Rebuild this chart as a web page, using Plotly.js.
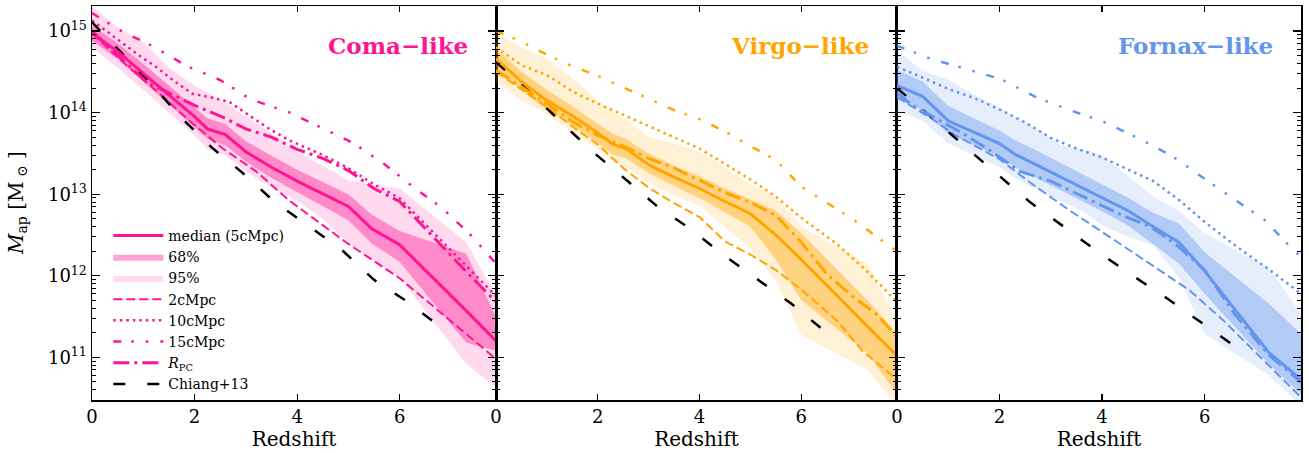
<!DOCTYPE html>
<html>
<head>
<meta charset="utf-8">
<script src="https://cdn.plot.ly/plotly-3.0.1.min.js"></script>
<style>html,body{margin:0;padding:0;background:#fff}#chart{width:1309px;height:453px}</style>
</head>
<body>
<div id="chart"></div>
<script>
// ---------- DATA (log10 of aperture mass in Msun vs redshift) ----------
// Coma-like
const comaBandZ      = [0, 0.5, 1.0, 1.5, 2.0, 2.25, 2.6, 3.0, 3.5, 4.0, 4.5, 5.0, 5.45, 6.0, 7.3, 7.88];
const comaMedian     = [14.97, 14.75, 14.48, 14.22, 13.95, 13.80, 13.73, 13.52, 13.33, 13.16, 13.01, 12.85, 12.58, 12.38, 11.57, 11.20];
const coma68Up       = [15.07, 14.85, 14.60, 14.33, 14.07, 13.93, 13.86, 13.65, 13.47, 13.30, 13.15, 13.00, 12.75, 12.55, 12.27, 11.49];
const coma68Low      = [14.88, 14.66, 14.38, 14.10, 13.83, 13.68, 13.60, 13.40, 13.20, 13.03, 12.86, 12.68, 12.40, 12.17, 11.18, 11.08];
const coma95Up       = [15.30, 15.05, 14.87, 14.55, 14.33, 14.25, 14.12, 13.95, 13.75, 13.52, 13.35, 13.17, 13.12, 13.07, 12.41, 11.75];
const coma95Low      = [14.80, 14.55, 14.28, 14.00, 13.72, 13.55, 13.48, 13.28, 13.08, 12.92, 12.70, 12.40, 12.20, 11.98, 10.92, 10.63];
const coma2Z         = [0, 0.6, 1.25, 1.9, 2.55, 3.2, 3.85, 5.0, 6.0, 7.3, 7.88];
const coma2          = [14.97, 14.62, 14.27, 13.90, 13.56, 13.28, 12.92, 12.39, 11.97, 11.29, 10.98];
const coma10Z        = [0, 0.6, 0.92, 1.25, 1.64, 1.96, 2.3, 2.68, 3.07, 3.46, 3.85, 4.5, 5.0, 5.5, 6.0, 7.3, 7.88];
const coma10         = [15.13, 14.85, 14.70, 14.56, 14.37, 14.23, 14.19, 14.13, 13.97, 13.80, 13.66, 13.48, 13.32, 13.12, 12.95, 12.12, 11.75];
const coma15Z        = [0, 0.57, 1.2, 1.85, 2.5, 3.1, 3.82, 4.47, 5.09, 5.72, 6.26, 6.85, 7.4, 7.88];
const coma15         = [15.22, 15.00, 14.81, 14.57, 14.40, 14.16, 14.01, 13.82, 13.63, 13.36, 13.09, 12.82, 12.49, 12.15];
const comaRpcZ       = [0, 0.5, 1.05, 1.57, 2.0, 2.6, 3.0, 3.5, 4.0, 4.5, 5.0, 5.5, 6.0, 7.3, 7.88];
const comaRpc        = [15.00, 14.70, 14.38, 14.22, 14.09, 13.93, 13.80, 13.70, 13.55, 13.44, 13.29, 13.07, 12.91, 12.05, 11.68];
const comaChiangZ    = [0, 1.2, 1.77, 2.34, 2.94, 3.57, 4.25, 4.9, 5.5, 6.18, 6.8];
const comaChiang     = [15.11, 14.32, 13.92, 13.57, 13.26, 12.90, 12.60, 12.30, 11.95, 11.67, 11.37];

// Virgo-like
const virgoBandZ     = [0, 0.5, 1.0, 1.5, 2.0, 2.3, 2.55, 3.0, 3.5, 4.0, 4.5, 5.0, 5.5, 6.0, 7.3, 7.88];
const virgoMedian    = [14.66, 14.38, 14.15, 13.96, 13.75, 13.61, 13.56, 13.36, 13.21, 13.07, 12.91, 12.76, 12.50, 12.20, 11.38, 11.02];
const virgo68Up      = [14.79, 14.50, 14.28, 14.08, 13.86, 13.74, 13.68, 13.50, 13.35, 13.22, 13.07, 12.93, 12.80, 12.52, 11.70, 11.29];
const virgo68Low     = [14.55, 14.27, 14.03, 13.84, 13.63, 13.48, 13.44, 13.26, 13.10, 12.95, 12.78, 12.60, 12.20, 11.70, 11.05, 10.55];
const virgo95Up      = [14.97, 14.80, 14.66, 14.42, 14.15, 14.00, 13.92, 13.70, 13.62, 13.52, 13.33, 13.12, 12.96, 12.60, 12.15, 11.45];
const virgo95Low     = [14.37, 14.15, 13.98, 13.76, 13.55, 13.40, 13.33, 13.14, 12.98, 12.86, 12.60, 12.33, 11.94, 11.27, 10.85, 10.40];
const virgo2Z        = [0, 0.5, 1.0, 1.5, 2.0, 2.5, 3.0, 3.5, 4.0, 4.5, 5.0, 5.5, 6.0, 6.7, 7.2, 7.88];
const virgo2         = [14.50, 14.28, 14.07, 13.83, 13.61, 13.32, 13.08, 12.89, 12.72, 12.42, 12.26, 12.07, 11.83, 11.45, 11.08, 10.73];
const virgo10Z       = [0, 0.5, 1.0, 1.5, 2.0, 2.5, 3.0, 3.5, 4.0, 4.5, 5.0, 5.5, 6.0, 6.7, 7.25, 7.88];
const virgo10        = [14.80, 14.58, 14.46, 14.26, 14.11, 13.97, 13.84, 13.70, 13.56, 13.37, 13.18, 12.97, 12.71, 12.39, 12.08, 11.68];
const virgo15Z       = [0, 0.5, 1.0, 1.5, 2.0, 2.5, 3.0, 3.5, 4.0, 4.5, 5.0, 5.5, 6.0, 6.5, 7.0, 7.5, 7.88];
const virgo15        = [15.00, 14.87, 14.71, 14.57, 14.45, 14.31, 14.17, 14.03, 13.92, 13.77, 13.59, 13.42, 13.09, 12.90, 12.70, 12.47, 12.30];
const virgoRpcZ      = [0, 0.5, 1.0, 1.5, 2.0, 2.5, 3.0, 3.5, 4.0, 4.5, 5.0, 5.5, 6.0, 6.5, 7.0, 7.5, 7.88];
const virgoRpc       = [14.52, 14.32, 14.11, 13.89, 13.72, 13.59, 13.44, 13.32, 13.17, 13.02, 12.90, 12.74, 12.41, 12.02, 11.75, 11.52, 11.25];
const virgoChiangZ   = [0, 0.65, 1.3, 1.9, 2.55, 3.15, 3.83, 4.48, 5.15, 5.8, 6.5];
const virgoChiang    = [14.62, 14.26, 13.87, 13.52, 13.18, 12.86, 12.57, 12.25, 11.95, 11.66, 11.30];

// Fornax-like
const fornaxBandZ    = [0, 0.5, 1.0, 1.5, 2.0, 2.3, 2.68, 3.2, 3.7, 4.0, 4.5, 5.0, 5.5, 6.0, 7.25, 7.88];
const fornaxMedian   = [14.33, 14.20, 13.90, 13.76, 13.62, 13.49, 13.37, 13.21, 13.05, 12.96, 12.80, 12.60, 12.41, 12.06, 11.06, 10.73];
const fornax68Up     = [14.52, 14.38, 14.08, 13.93, 13.78, 13.66, 13.55, 13.38, 13.22, 13.12, 12.96, 12.77, 12.64, 12.29, 11.66, 11.29];
const fornax68Low    = [14.17, 14.03, 13.74, 13.60, 13.46, 13.33, 13.21, 13.05, 12.89, 12.79, 12.62, 12.38, 12.15, 11.78, 10.92, 10.55];
const fornax95Up     = [14.76, 14.52, 14.40, 14.23, 14.05, 13.95, 13.82, 13.60, 13.54, 13.48, 13.22, 12.97, 12.80, 12.52, 12.10, 11.53];
const fornax95Low    = [14.02, 13.90, 13.62, 13.47, 13.33, 13.20, 13.07, 12.92, 12.76, 12.62, 12.48, 12.37, 11.98, 11.29, 10.78, 10.40];
const fornax2Z       = [0, 0.69, 1.15, 2.0, 2.58, 3.37, 4.02, 4.93, 5.71, 6.37, 7.02, 7.88];
const fornax2        = [14.19, 13.92, 13.72, 13.43, 13.15, 12.80, 12.53, 12.15, 11.82, 11.45, 11.04, 10.51];
const fornax10Z      = [0, 0.5, 1.0, 1.5, 2.0, 2.5, 3.0, 3.5, 4.0, 4.5, 5.0, 5.5, 6.0, 6.6, 7.25, 7.88];
const fornax10       = [14.56, 14.43, 14.29, 14.18, 14.04, 13.88, 13.69, 13.56, 13.45, 13.30, 13.16, 12.93, 12.66, 12.37, 12.08, 11.78];
const fornax15Z      = [0, 0.66, 1.38, 2.03, 2.71, 3.33, 4.02, 4.70, 5.36, 5.92, 6.55, 7.16, 7.63, 7.88];
const fornax15       = [14.82, 14.66, 14.53, 14.41, 14.19, 14.04, 13.89, 13.69, 13.47, 13.22, 12.95, 12.69, 12.38, 12.23];
const fornaxRpcZ     = [0, 0.3, 0.9, 1.3, 1.85, 2.4, 3.0, 3.7, 4.4, 4.95, 5.45, 6.0, 6.6, 7.25, 7.88];
const fornaxRpc      = [14.24, 14.09, 13.88, 13.74, 13.52, 13.28, 13.16, 12.95, 12.74, 12.60, 12.38, 12.07, 11.52, 11.03, 10.70];
const fornaxChiangZ  = [0, 0.74, 1.37, 2.0, 2.6, 3.3, 3.95, 4.6, 5.3, 5.95, 6.6];
const fornaxChiang   = [14.30, 13.91, 13.56, 13.22, 12.90, 12.58, 12.28, 12.00, 11.71, 11.42, 11.13];

const panelNames  = ['Coma\u2212like', 'Virgo\u2212like', 'Fornax\u2212like'];
const panelColors = ['#ff1493', '#ffa500', '#6495ed'];
const panelRGB    = ['255,20,147', '255,165,0', '100,149,237'];
const yTickVals   = [1e11, 1e12, 1e13, 1e14, 1e15];
const yTickText   = ['10<sup>11</sup>', '10<sup>12</sup>', '10<sup>13</sup>', '10<sup>14</sup>', '10<sup>15</sup>'];
const xTickVals   = [0, 2, 4, 6];
const xTickText   = ['0', '2', '4', '6'];

const panels = [
  {bz: comaBandZ, med: comaMedian, u68: coma68Up, l68: coma68Low, u95: coma95Up, l95: coma95Low,
   z2: coma2Z, v2: coma2, z10: coma10Z, v10: coma10, z15: coma15Z, v15: coma15,
   zr: comaRpcZ, vr: comaRpc, zc: comaChiangZ, vc: comaChiang},
  {bz: virgoBandZ, med: virgoMedian, u68: virgo68Up, l68: virgo68Low, u95: virgo95Up, l95: virgo95Low,
   z2: virgo2Z, v2: virgo2, z10: virgo10Z, v10: virgo10, z15: virgo15Z, v15: virgo15,
   zr: virgoRpcZ, vr: virgoRpc, zc: virgoChiangZ, vc: virgoChiang},
  {bz: fornaxBandZ, med: fornaxMedian, u68: fornax68Up, l68: fornax68Low, u95: fornax95Up, l95: fornax95Low,
   z2: fornax2Z, v2: fornax2, z10: fornax10Z, v10: fornax10, z15: fornax15Z, v15: fornax15,
   zr: fornaxRpcZ, vr: fornaxRpc, zc: fornaxChiangZ, vc: fornaxChiang}
];

// ---------- BUILD ----------
const FONT = 'DejaVu Serif, Liberation Serif, serif';
const toMass = a => a.map(v => Math.pow(10, v));
const traces = [];

panels.forEach((p, i) => {
  const xa = i === 0 ? 'x' : 'x' + (i + 1);
  const ya = i === 0 ? 'y' : 'y' + (i + 1);
  const c = panelColors[i], rgb = panelRGB[i];
  const leg = i === 0;
  const base = {type: 'scatter', mode: 'lines', xaxis: xa, yaxis: ya, hoverinfo: 'skip'};
  // 95% band
  traces.push(Object.assign({}, base, {x: p.bz, y: toMass(p.l95), line: {width: 0, color: c}, showlegend: false}));
  traces.push(Object.assign({}, base, {x: p.bz, y: toMass(p.u95), fill: 'tonexty', fillcolor: 'rgba(' + rgb + ',0.16)',
    line: {width: 0, color: c}, name: '95%', showlegend: leg, legendrank: 3}));
  // 68% band
  traces.push(Object.assign({}, base, {x: p.bz, y: toMass(p.l68), line: {width: 0, color: c}, showlegend: false}));
  traces.push(Object.assign({}, base, {x: p.bz, y: toMass(p.u68), fill: 'tonexty', fillcolor: 'rgba(' + rgb + ',0.40)',
    line: {width: 0, color: c}, name: '68%', showlegend: leg, legendrank: 2}));
  // lines
  traces.push(Object.assign({}, base, {x: p.z2, y: toMass(p.v2), line: {width: 2, color: c, dash: '9px,4px'},
    name: '2cMpc', showlegend: leg, legendrank: 4}));
  traces.push(Object.assign({}, base, {x: p.z10, y: toMass(p.v10), line: {width: 2.5, color: c, dash: '2.5px,4px'},
    name: '10cMpc', showlegend: leg, legendrank: 5}));
  traces.push(Object.assign({}, base, {x: p.z15, y: toMass(p.v15), line: {width: 2.5, color: c, dash: '8px,10px,2.5px,12px,2.5px,12px'},
    name: '15cMpc', showlegend: leg, legendrank: 6}));
  traces.push(Object.assign({}, base, {x: p.zc, y: toMass(p.vc), line: {width: 2.5, color: '#000', dash: '12px,22px'},
    name: 'Chiang+13', showlegend: leg, legendrank: 8}));
  traces.push(Object.assign({}, base, {x: p.bz, y: toMass(p.med), line: {width: 3, color: c},
    name: 'median (5cMpc)', showlegend: leg, legendrank: 1}));
  traces.push(Object.assign({}, base, {x: p.zr, y: toMass(p.vr), line: {width: 3, color: c, dash: '16px,5px,3px,5px'},
    name: '<i>R</i><sub>PC</sub>', showlegend: leg, legendrank: 7}));
});

const domains = [[0, 0.3342], [0.3342, 0.6658], [0.6658, 1]];
const layout = {
  width: 1309, height: 453,
  margin: {l: 92, r: 8, t: 6, b: 53},
  paper_bgcolor: '#fff', plot_bgcolor: '#fff',
  font: {family: FONT, size: 18, color: '#000'},
  showlegend: true,
  legend: {x: 0.0135, y: 0.457, xanchor: 'left', yanchor: 'top', bgcolor: 'rgba(0,0,0,0)', traceorder: 'normal',
    font: {family: FONT, size: 14, color: '#000'}, tracegroupgap: 0, itemwidth: 50},
  annotations: [{
    text: '<i>M</i><sub>ap</sub> [M<sub> \u2299</sub> ]', xref: 'paper', yref: 'paper',
    x: 0, y: 0.5, xshift: -75, xanchor: 'center', yanchor: 'middle', textangle: -90, showarrow: false,
    font: {family: FONT, size: 20, color: '#000'}
  }],
  hovermode: false
};

domains.forEach((d, i) => {
  const sx = i === 0 ? '' : String(i + 1);
  layout['xaxis' + sx] = {
    domain: d, range: [0, 7.88], anchor: 'y' + sx,
    tickmode: 'array', tickvals: xTickVals, ticktext: xTickText,
    ticks: 'inside', ticklen: 6, tickwidth: 1.2, tickcolor: '#000',
    showline: true, linewidth: 1.5, linecolor: '#000', mirror: 'ticks',
    showgrid: false, zeroline: false,
    tickfont: {family: FONT, size: 18},
    title: {text: 'Redshift', font: {family: FONT, size: 20}, standoff: 5}
  };
  layout['yaxis' + sx] = {
    domain: [0, 1], type: 'log', range: [10.477, 15.307], anchor: 'x' + sx,
    tickmode: 'array', tickvals: yTickVals, ticktext: yTickText,
    ticks: 'inside', ticklen: 8, tickwidth: 1.2, tickcolor: '#000',
    minor: {ticks: 'inside', ticklen: 4, tickwidth: 1, tickcolor: '#000', dtick: 'D1', showgrid: false},
    showline: true, linewidth: 1.5, linecolor: '#000', mirror: 'ticks',
    showgrid: false, zeroline: false,
    showticklabels: i === 0,
    tickfont: {family: FONT, size: 18}
  };
  layout.annotations.push({
    text: '<b>' + panelNames[i] + '</b>', xref: 'x' + sx + ' domain', yref: 'y' + sx + ' domain',
    x: 0.935, y: 0.90, xanchor: 'right', yanchor: 'middle', showarrow: false,
    font: {family: FONT, size: 23, color: panelColors[i]}
  });
});

Plotly.newPlot('chart', traces, layout, {staticPlot: true, displayModeBar: false});
</script>
</body>
</html>
